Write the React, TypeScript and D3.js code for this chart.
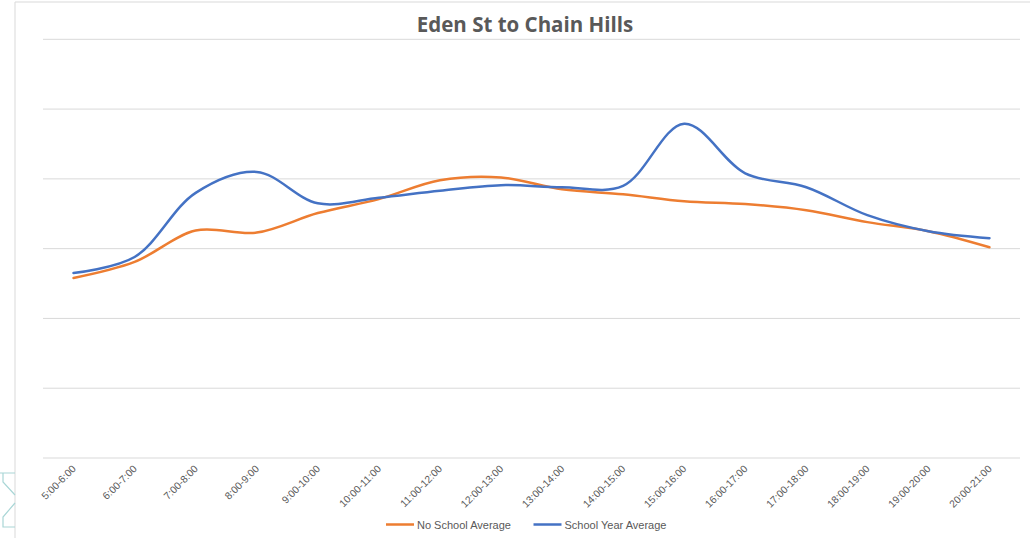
import React from "react";
import * as d3 from "d3";

const categories = [
  "5:00-6:00", "6:00-7:00", "7:00-8:00", "8:00-9:00", "9:00-10:00", "10:00-11:00",
  "11:00-12:00", "12:00-13:00", "13:00-14:00", "14:00-15:00", "15:00-16:00",
  "16:00-17:00", "17:00-18:00", "18:00-19:00", "19:00-20:00", "20:00-21:00",
];

const noSchoolAverage = [25.8, 28.1, 32.6, 32.3, 35.1, 37.1, 39.8, 40.2, 38.5, 37.8, 36.8, 36.4, 35.5, 33.8, 32.5, 30.2];
const schoolYearAverage = [26.5, 28.8, 38.0, 41.0, 36.5, 37.3, 38.3, 39.1, 38.8, 39.0, 47.9, 40.8, 38.8, 34.8, 32.5, 31.5];

const yTicks = [0, 10, 20, 30, 40, 50, 60];

const seriesNames = ["No School Average", "School Year Average"];
const seriesColors = ["#ED7D31", "#4472C4"];

export default function App() {
  const W = 1030;
  const H = 538;
  const left = 43;
  const right = 1020;
  const top = 39.3;
  const bottom = 458;

  const x = d3.scaleBand<string>().domain(categories).range([left, right]).padding(0);
  const cx = (c: string) => (x(c) as number) + x.bandwidth() / 2;
  const y = d3.scaleLinear().domain([0, 60]).range([bottom, top]);

  const line = d3
    .line<number>()
    .x((_, i) => cx(categories[i]))
    .y((d) => y(d))
    .curve(d3.curveCatmullRom.alpha(0.5));

  const series = [noSchoolAverage, schoolYearAverage];

  return (
    <svg
      width={W}
      height={H}
      style={{ position: "absolute", left: 0, top: 0, background: "#fff" }}
    >
      <rect x={0} y={0} width={W} height={H} fill="#fff" />
      {/* chart border */}
      <line x1={15} y1={2} x2={W} y2={2} stroke="#d9d9d9" strokeWidth={1} />
      <line x1={15} y1={2} x2={15} y2={H} stroke="#d9d9d9" strokeWidth={1} />
      {/* decorative fragment at bottom-left */}
      <path
        d="M0,473 H15 M3,473 V482 L15,495 M15,503 L3,517 V527 H15"
        fill="none"
        stroke="#a9d6d6"
        strokeWidth={1.2}
      />

      {/* title */}
      <text
        x={525}
        y={32}
        textAnchor="middle"
        fontFamily="'Open Sans', sans-serif"
        fontWeight="bold"
        fontSize={20.5}
        fill="#595959"
      >
        Eden St to Chain Hills
      </text>

      {/* gridlines */}
      {yTicks.map((t) => (
        <line
          key={t}
          x1={left}
          x2={right}
          y1={y(t)}
          y2={y(t)}
          stroke="#d9d9d9"
          strokeWidth={1}
        />
      ))}

      {/* x tick labels */}
      {categories.map((c) => (
        <text
          key={c}
          transform={`translate(${cx(c) + 3},${469.5}) rotate(-45)`}
          textAnchor="end"
          fontFamily="'Liberation Sans', Arial, sans-serif"
          fontSize={10.3}
          fill="#595959"
        >
          {c}
        </text>
      ))}

      {/* series lines */}
      {series.map((s, i) => (
        <path
          key={i}
          d={line(s) || ""}
          fill="none"
          stroke={seriesColors[i]}
          strokeWidth={2.5}
          strokeLinecap="round"
          strokeLinejoin="round"
        />
      ))}

      {/* legend */}
      {seriesNames.map((n, i) => {
        const lx = i === 0 ? 386 : 533.5;
        return (
          <g key={n}>
            <line
              x1={lx}
              x2={lx + 28}
              y1={524.5}
              y2={524.5}
              stroke={seriesColors[i]}
              strokeWidth={2.5}
            />
            <text
              x={lx + 31}
              y={528.5}
              fontFamily="'Liberation Sans', Arial, sans-serif"
              fontSize={11}
              fill="#595959"
            >
              {n}
            </text>
          </g>
        );
      })}
    </svg>
  );
}
